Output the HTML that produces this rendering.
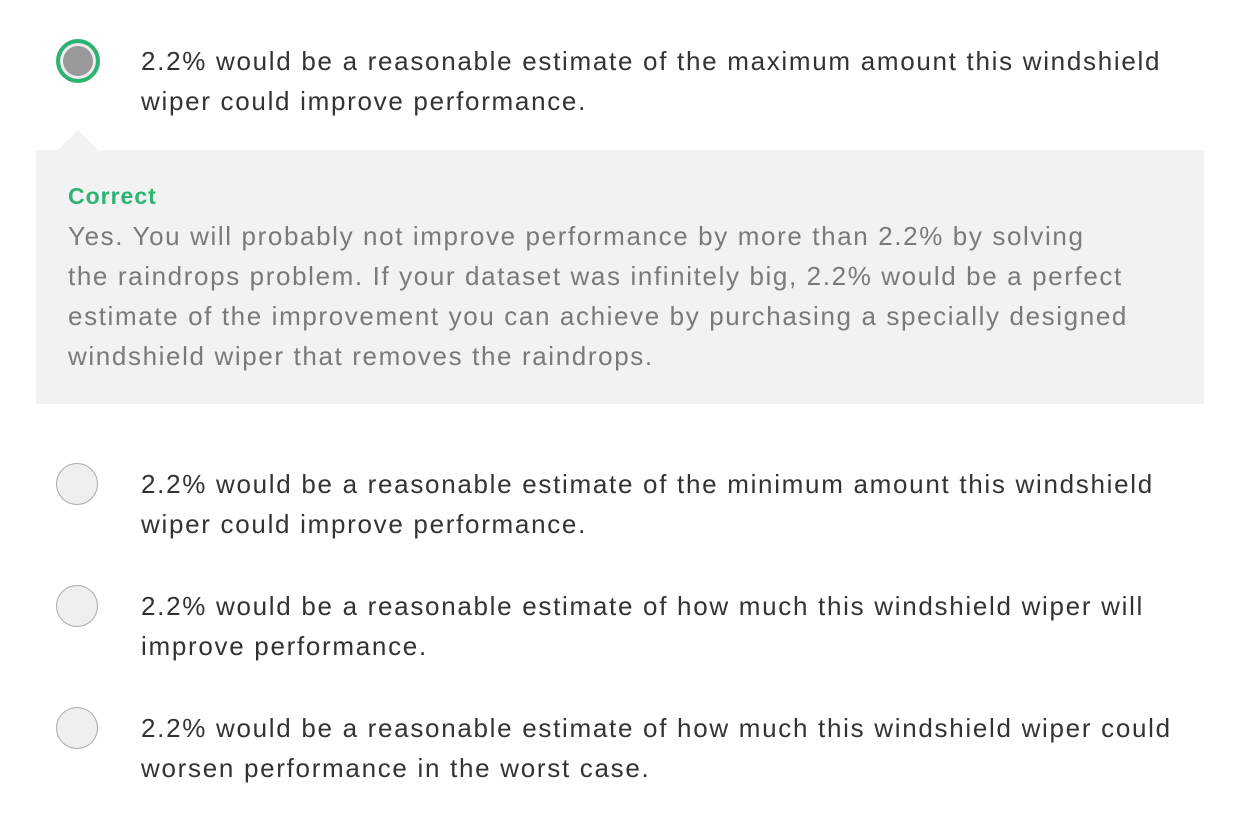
<!DOCTYPE html>
<html><head><meta charset="utf-8"><style>
body{margin:0;width:1240px;height:824px;background:#fff;font-family:"Liberation Sans",sans-serif;position:relative;overflow:hidden}
.l{position:absolute;left:141px;white-space:nowrap;font-size:26px;letter-spacing:1.7px;color:#333;line-height:40px}
.g{color:#7a7a7a;left:68px;letter-spacing:1.62px}
.r{position:absolute;left:56px;width:42px;height:42px;border-radius:50%;box-sizing:border-box;background:#efefef;border:1.5px solid #aaa}
</style></head><body>
<div class="r" style="top:39px;width:44px;height:44px;left:56px;border:4px solid #2db372;background:#999;box-shadow:inset 0 0 0 3px #eee"></div>
<div class="l" style="top:41px">2.2% would be a reasonable estimate of the maximum amount this windshield<br>wiper could improve performance.</div>
<div style="position:absolute;left:58px;top:130px;width:0;height:0;border-left:20px solid transparent;border-right:20px solid transparent;border-bottom:20px solid #f2f2f2"></div>
<div style="position:absolute;left:36px;top:150px;width:1168px;height:254px;background:#f2f2f2"></div>
<div class="l" style="left:68px;top:176px;font-size:23px;letter-spacing:1px;font-weight:bold;color:#2db372">Correct</div>
<div class="l g" style="top:216px">Yes. You will probably not improve performance by more than 2.2% by solving<br>the raindrops problem. If your dataset was infinitely big, 2.2% would be a perfect<br>estimate of the improvement you can achieve by purchasing a specially designed<br>windshield wiper that removes the raindrops.</div>
<div class="r" style="top:463px"></div>
<div class="l" style="top:464px">2.2% would be a reasonable estimate of the minimum amount this windshield<br>wiper could improve performance.</div>
<div class="r" style="top:585px"></div>
<div class="l" style="top:586px">2.2% would be a reasonable estimate of how much this windshield wiper will<br>improve performance.</div>
<div class="r" style="top:707px"></div>
<div class="l" style="top:708px">2.2% would be a reasonable estimate of how much this windshield wiper could<br>worsen performance in the worst case.</div>
</body></html>
